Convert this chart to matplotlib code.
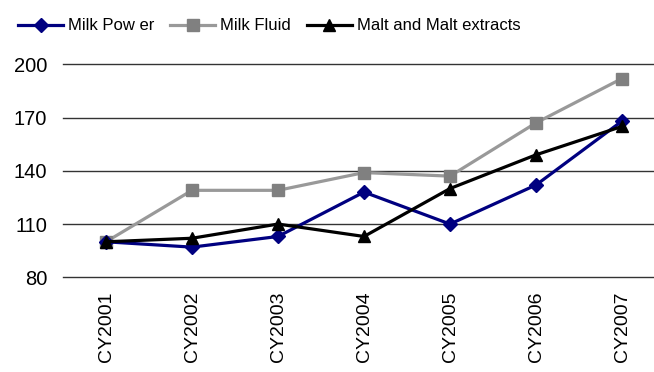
import matplotlib
matplotlib.use("Agg")
import matplotlib.pyplot as plt

plt.rcParams['font.family'] = ['Liberation Sans', 'DejaVu Sans']

years = ["CY2001", "CY2002", "CY2003", "CY2004", "CY2005", "CY2006", "CY2007"]
milk_power = [100, 97, 103, 128, 110, 132, 168]
milk_fluid = [100, 129, 129, 139, 137, 167, 192]
malt = [100, 102, 110, 103, 130, 149, 165]
yticks = [80, 110, 140, 170, 200]

W, H = 654, 372
fig = plt.figure(figsize=(W / 100, H / 100), dpi=100)
ax = fig.add_axes([63 / W, (H - 277.3) / H, (665 - 63) / W, (277.3 - 64.3) / H])

x = list(range(len(years)))
ax.plot(x, milk_power, color="#000080", lw=2.3, marker="D", ms=7,
        mfc="#000080", mec="#000080", label="Milk Pow er", zorder=3, clip_on=False)
ax.plot(x, milk_fluid, color="#999999", lw=2.3, marker="s", ms=8,
        mfc="#808080", mec="#808080", label="Milk Fluid", zorder=2, clip_on=False)
ax.plot(x, malt, color="#000000", lw=2.3, marker="^", ms=9,
        mfc="#000000", mec="#000000", label="Malt and Malt extracts", zorder=4, clip_on=False)

ax.set_xlim(-0.5, len(years) - 0.5)
ax.set_ylim(80, 200)
ax.set_yticks(yticks)
ax.set_yticklabels([str(v) for v in yticks], fontsize=14.5)
ax.set_xticks(x)
ax.set_xticklabels(years, rotation=90, fontsize=14, va="top", ha="center")
ax.tick_params(axis="both", length=0)
ax.tick_params(axis="y", pad=11.5)
ax.tick_params(axis="x", pad=10)
for v in yticks:
    ax.axhline(v, color="#333333", lw=1.0, zorder=1, clip_on=False)
for s in ["left", "right", "top", "bottom"]:
    ax.spines[s].set_visible(False)

leg = fig.legend(loc="center left", bbox_to_anchor=(18 / W, 1 - 26 / H), ncol=3,
                 frameon=False, fontsize=12, handlelength=2.7, handletextpad=0.3,
                 columnspacing=0.95, borderaxespad=0, borderpad=0)

fig.savefig("out.png", dpi=100)
